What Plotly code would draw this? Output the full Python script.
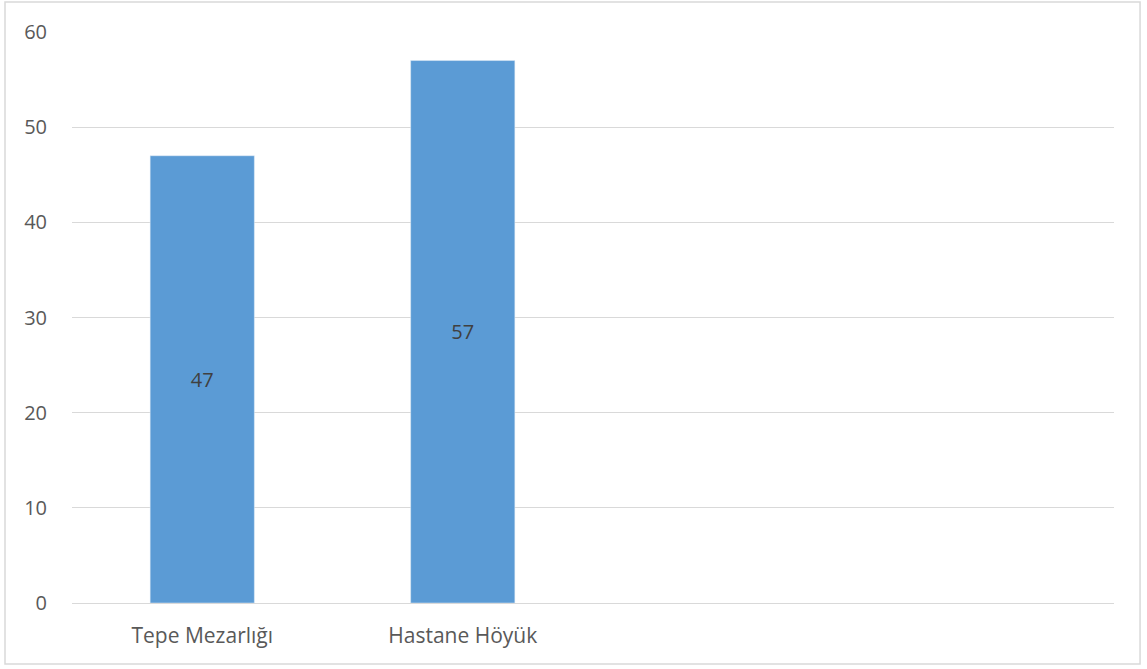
import plotly.graph_objects as go

categories = ["Tepe Mezarlığı", "Hastane Höyük", "", ""]
values = [47, 57, None, None]
y_ticks = [0, 10, 20, 30, 40, 50, 60]

xpos = list(range(len(categories)))

fig = go.Figure(go.Bar(
    x=xpos, y=values,
    marker_color="#5B9BD5",
    width=0.4,
    text=[str(v) if v is not None else "" for v in values],
    textposition="inside",
    insidetextanchor="middle",
    textfont=dict(color="#404040", size=20, family="Open Sans"),
))

fig.update_layout(
    width=1147, height=669,
    margin=dict(l=72, r=33, t=32, b=66),
    paper_bgcolor="white", plot_bgcolor="white",
    font=dict(family="Open Sans", size=20, color="#595959"),
    showlegend=False,
    xaxis=dict(
        tickvals=xpos, ticktext=categories,
        range=[-0.5, len(categories) - 0.5],
        showgrid=False, zeroline=False,
        showline=True, linecolor="#D9D9D9", linewidth=1,
        ticks="", ticklabelstandoff=14,
        tickfont=dict(size=21, color="#595959"),
    ),
    yaxis=dict(
        range=[0, 60], tickvals=y_ticks,
        showgrid=True, gridcolor="#D9D9D9", gridwidth=1,
        zeroline=False, showline=False,
        ticks="", ticklabelstandoff=24,
        tickfont=dict(size=20, color="#595959"),
    ),
    shapes=[dict(
        type="rect", xref="paper", yref="paper",
        x0=-0.0643, x1=1.025, y0=-0.1068, y1=1.0525,
        line=dict(color="#D9D9D9", width=1.5),
        fillcolor="rgba(0,0,0,0)", layer="below",
    )],
)

fig.write_html(
    "out.html",
    config={"displayModeBar": False},
    post_script="document.body.style.margin='0';document.body.style.overflow='hidden';",
)
